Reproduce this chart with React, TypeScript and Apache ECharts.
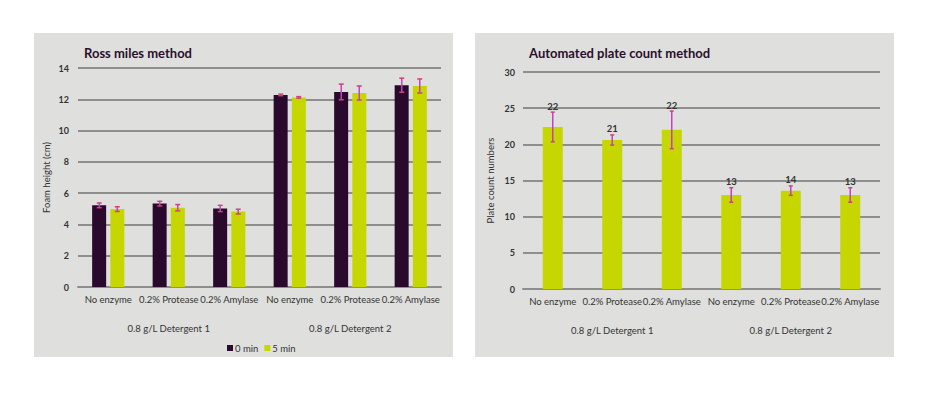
import React, { useEffect, useRef } from "react";
import * as echarts from "echarts";

const categories = ["No enzyme", "0.2% Protease", "0.2% Amylase", "No enzyme", "0.2% Protease", "0.2% Amylase"];
const groups = ["0.8 g/L Detergent 1", "0.8 g/L Detergent 2"];

const foam0 = [5.22, 5.33, 5.02, 12.28, 12.47, 12.9];
const foam0Err = [0.15, 0.15, 0.2, 0.05, 0.5, 0.45];
const foam5 = [4.98, 5.07, 4.82, 12.12, 12.4, 12.85];
const foam5Err = [0.15, 0.2, 0.15, 0.05, 0.45, 0.45];

const plate = [22.4, 20.6, 22.0, 13.0, 13.6, 13.0];
const plateErr = [2.05, 0.7, 2.6, 1.0, 0.65, 1.0];

const FONT = "Lato, 'Noto Sans', sans-serif";
const TEXT = "#333333";
const GRID = "#8e8e8e";
const DARK = "#2a0a2c";
const LIME = "#c6d600";
const ERR = "#c63fc6";
const CAP = "#d0407a";

function errRender(offset: number, capHalf: number, withLabel: boolean) {
  return (params: any, api: any) => {
    const i = api.value(0);
    const lo = api.coord([i, api.value(1)]);
    const hi = api.coord([i, api.value(2)]);
    const x = lo[0] + offset;
    const children: any[] = [
      { type: "line", shape: { x1: x, y1: hi[1], x2: x, y2: lo[1] }, style: { stroke: ERR, lineWidth: 1.5 } },
      { type: "line", shape: { x1: x - capHalf, y1: hi[1], x2: x + capHalf, y2: hi[1] }, style: { stroke: CAP, lineWidth: 1.5 } },
      { type: "line", shape: { x1: x - capHalf, y1: lo[1], x2: x + capHalf, y2: lo[1] }, style: { stroke: CAP, lineWidth: 1.5 } },
    ];
    if (withLabel) {
      children.push({
        type: "text",
        x,
        y: hi[1] - 1,
        style: {
          text: String(Math.round(api.value(3))),
          align: "center",
          verticalAlign: "bottom",
          fontSize: 9.5,
          fontWeight: "bold",
          fill: TEXT,
          fontFamily: FONT,
        },
      });
    }
    return { type: "group", children };
  };
}

export default function App() {
  const ref = useRef<HTMLDivElement>(null);
  useEffect(() => {
    const chart = echarts.init(ref.current as HTMLDivElement, null, { renderer: "svg" });

    const catAxis = (gridIndex: number) => ({
      type: "category",
      gridIndex,
      data: categories,
      axisLine: { lineStyle: { color: GRID, width: 2 } },
      axisTick: { show: false },
      axisLabel: { color: TEXT, fontSize: 9.5, fontFamily: FONT, margin: 7, interval: 0 },
    });
    const groupAxis = (gridIndex: number) => ({
      type: "category",
      gridIndex,
      position: "bottom",
      offset: 30,
      data: groups,
      axisLine: { show: false },
      axisTick: { show: false },
      axisLabel: { color: TEXT, fontSize: 9.5, fontFamily: FONT, margin: 6, interval: 0 },
    });

    const option: any = {
      animation: false,
      backgroundColor: "#ffffff",
      textStyle: { fontFamily: FONT },
      graphic: [
        { type: "rect", shape: { x: 34, y: 33, width: 419, height: 324 }, style: { fill: "#dfe0de" }, z: -10 },
        { type: "rect", shape: { x: 475, y: 33, width: 419, height: 324 }, style: { fill: "#dfe0de" }, z: -10 },
      ],
      title: [
        { text: "Ross miles method", left: 79, top: 41, textStyle: { fontSize: 13, fontWeight: "bold", color: "#2a0f2c", fontFamily: FONT } },
        { text: "Automated plate count method", left: 524, top: 41, textStyle: { fontSize: 13, fontWeight: "bold", color: "#2a0f2c", fontFamily: FONT } },
      ],
      legend: {
        data: ["0 min", "5 min"],
        left: 222,
        top: 338,
        icon: "rect",
        itemWidth: 6,
        itemHeight: 6,
        itemGap: 6,
        textStyle: { fontSize: 9.5, color: TEXT, fontFamily: FONT, padding: [0, 0, 0, -3] },
      },
      grid: [
        { left: 78, right: 487, top: 68, bottom: 106 },
        { left: 523, right: 48, top: 72, bottom: 104 },
      ],
      xAxis: [catAxis(0), groupAxis(0), catAxis(1), groupAxis(1)],
      yAxis: [
        {
          type: "value",
          gridIndex: 0,
          min: 0,
          max: 14,
          interval: 2,
          name: "Foam height (cm)",
          nameLocation: "middle",
          nameGap: 27,
          nameTextStyle: { color: TEXT, fontSize: 9.5, fontFamily: FONT },
          axisLine: { show: false },
          axisTick: { show: false },
          axisLabel: { color: TEXT, fontSize: 9, fontWeight: "bold", fontFamily: FONT, margin: 9 },
          splitLine: { lineStyle: { color: GRID, width: 2 } },
        },
        {
          type: "value",
          gridIndex: 1,
          min: 0,
          max: 30,
          interval: 5,
          name: "Plate count numbers",
          nameLocation: "middle",
          nameGap: 28,
          nameTextStyle: { color: TEXT, fontSize: 9.5, fontFamily: FONT },
          axisLine: { show: false },
          axisTick: { show: false },
          axisLabel: { color: TEXT, fontSize: 9, fontWeight: "bold", fontFamily: FONT, margin: 8 },
          splitLine: { lineStyle: { color: GRID, width: 2 } },
        },
      ],
      series: [
        {
          name: "0 min",
          type: "bar",
          xAxisIndex: 0,
          yAxisIndex: 0,
          data: foam0,
          barWidth: 14,
          barGap: "30%",
          itemStyle: { color: DARK },
        },
        {
          name: "5 min",
          type: "bar",
          xAxisIndex: 0,
          yAxisIndex: 0,
          data: foam5,
          barWidth: 14,
          barGap: "30%",
          itemStyle: { color: LIME },
        },
        {
          type: "custom",
          xAxisIndex: 0,
          yAxisIndex: 0,
          z: 5,
          encode: { x: 0, y: [1, 2] },
          data: foam0.map((v, i) => [i, v - foam0Err[i], v + foam0Err[i]]),
          renderItem: errRender(-9, 2.5, false),
        },
        {
          type: "custom",
          xAxisIndex: 0,
          yAxisIndex: 0,
          z: 5,
          encode: { x: 0, y: [1, 2] },
          data: foam5.map((v, i) => [i, v - foam5Err[i], v + foam5Err[i]]),
          renderItem: errRender(9, 2.5, false),
        },
        {
          name: "Plate count",
          type: "bar",
          xAxisIndex: 2,
          yAxisIndex: 1,
          data: plate,
          barWidth: 20,
          itemStyle: { color: LIME },
        },
        {
          type: "custom",
          xAxisIndex: 2,
          yAxisIndex: 1,
          z: 5,
          encode: { x: 0, y: [1, 2] },
          data: plate.map((v, i) => [i, v - plateErr[i], v + plateErr[i], v]),
          renderItem: errRender(0, 2, true),
        },
      ],
    };
    chart.setOption(option);
    return () => chart.dispose();
  }, []);
  return (
    <div
      ref={ref}
      style={{ position: "fixed", left: 0, top: 0, width: 928, height: 393, background: "#ffffff" }}
    />
  );
}
